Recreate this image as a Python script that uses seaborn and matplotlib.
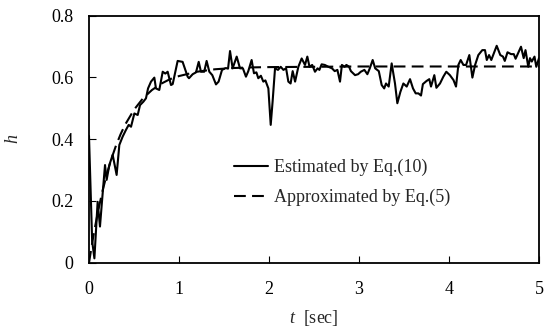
import matplotlib
matplotlib.use("Agg")
import matplotlib.pyplot as plt
import pandas as pd
import seaborn as sns

# Estimated index h(t) from Eq.(10)
t_est = [0.000, 0.035, 0.060, 0.096, 0.122, 0.144, 0.178, 0.196, 0.226, 0.263,
         0.307, 0.337, 0.374, 0.411, 0.441, 0.467, 0.504, 0.541, 0.567, 0.604,
         0.633, 0.656, 0.689, 0.726, 0.744, 0.781, 0.819, 0.848, 0.874, 0.911,
         0.930, 0.967, 0.985, 1.040, 1.070, 1.096, 1.111, 1.152, 1.189, 1.219,
         1.244, 1.280, 1.307, 1.337, 1.370, 1.411, 1.440, 1.478, 1.520, 1.545,
         1.567, 1.596, 1.641, 1.678, 1.710, 1.744, 1.770, 1.807, 1.833, 1.860,
         1.881, 1.910, 1.937, 1.960, 1.993, 2.019, 2.040, 2.067, 2.100, 2.130,
         2.160, 2.190, 2.215, 2.240, 2.263, 2.290, 2.326, 2.363, 2.400, 2.426,
         2.450, 2.480, 2.511, 2.540, 2.560, 2.585, 2.620, 2.660, 2.700, 2.730,
         2.760, 2.789, 2.810, 2.840, 2.860, 2.890, 2.910, 2.956, 2.990, 3.020,
         3.060, 3.093, 3.120, 3.152, 3.180, 3.220, 3.252, 3.280, 3.300, 3.330,
         3.363, 3.400, 3.426, 3.460, 3.493, 3.530, 3.567, 3.600, 3.630, 3.660,
         3.689, 3.710, 3.750, 3.781, 3.800, 3.837, 3.860, 3.900, 3.937, 3.970,
         4.010, 4.050, 4.078, 4.104, 4.130, 4.160, 4.190, 4.226, 4.260, 4.290,
         4.326, 4.370, 4.400, 4.420, 4.445, 4.470, 4.530, 4.570, 4.600, 4.620,
         4.650, 4.690, 4.720, 4.740, 4.800, 4.830, 4.850, 4.881, 4.900, 4.920,
         4.950, 4.970, 5.000]
h_est = [0.410, 0.070, 0.014, 0.197, 0.117, 0.197, 0.316, 0.268, 0.316, 0.349,
         0.284, 0.381, 0.408, 0.430, 0.446, 0.440, 0.483, 0.478, 0.510, 0.521,
         0.532, 0.564, 0.586, 0.599, 0.564, 0.559, 0.618, 0.612, 0.618, 0.575,
         0.578, 0.629, 0.653, 0.650, 0.624, 0.602, 0.597, 0.610, 0.616, 0.650,
         0.618, 0.618, 0.653, 0.618, 0.607, 0.577, 0.586, 0.624, 0.630, 0.628,
         0.685, 0.629, 0.667, 0.629, 0.629, 0.602, 0.620, 0.656, 0.613, 0.616,
         0.597, 0.605, 0.586, 0.590, 0.564, 0.446, 0.521, 0.629, 0.624, 0.634,
         0.624, 0.629, 0.586, 0.580, 0.620, 0.586, 0.634, 0.661, 0.640, 0.667,
         0.634, 0.640, 0.618, 0.629, 0.624, 0.642, 0.640, 0.634, 0.629, 0.620,
         0.624, 0.586, 0.640, 0.634, 0.640, 0.634, 0.620, 0.607, 0.610, 0.618,
         0.624, 0.610, 0.629, 0.656, 0.629, 0.620, 0.575, 0.564, 0.580, 0.570,
         0.645, 0.580, 0.516, 0.553, 0.580, 0.570, 0.594, 0.564, 0.548, 0.548,
         0.541, 0.578, 0.588, 0.594, 0.570, 0.607, 0.566, 0.580, 0.602, 0.618,
         0.607, 0.591, 0.570, 0.640, 0.656, 0.640, 0.640, 0.672, 0.599, 0.640,
         0.672, 0.688, 0.688, 0.656, 0.672, 0.656, 0.702, 0.672, 0.667, 0.653,
         0.681, 0.675, 0.675, 0.660, 0.699, 0.662, 0.688, 0.634, 0.662, 0.651,
         0.667, 0.634, 0.662]

# Approximation from Eq.(5)
t_apx = [0.00, 0.05, 0.10, 0.15, 0.20, 0.25, 0.30, 0.35, 0.40, 0.50, 0.60,
         0.70, 0.80, 0.90, 1.00, 1.20, 1.40, 1.60, 1.80, 2.00, 2.50, 3.00, 5.00]
h_apx = [0.000, 0.089, 0.166, 0.232, 0.289, 0.337, 0.379, 0.415, 0.446, 0.495,
         0.532, 0.559, 0.579, 0.594, 0.604, 0.618, 0.626, 0.630, 0.632, 0.633,
         0.634, 0.635, 0.635]

labels = ["Estimated by Eq.(10)", "Approximated by Eq.(5)"]
x_ticks = [0, 1, 2, 3, 4, 5]
y_ticks = [0, 0.2, 0.4, 0.6, 0.8]
y_ticklabels = ["0", "0.2", "0.4", "0.6", "0.8"]

sns.set_theme(style="ticks")
plt.rcParams["font.family"] = ["Liberation Serif", "DejaVu Serif"]
plt.rcParams["mathtext.fontset"] = "custom"
plt.rcParams["mathtext.it"] = "Liberation Serif:italic"
plt.rcParams["mathtext.rm"] = "Liberation Serif"
plt.rcParams["lines.scale_dashes"] = False

est = pd.DataFrame({"t": t_est, "h": h_est})
apx = pd.DataFrame({"t": t_apx, "h": h_apx})

fig = plt.figure(figsize=(5.44, 3.30), dpi=100)
ax = fig.add_axes([0.1636, 0.204, 0.8272, 0.749])

sns.lineplot(data=est, x="t", y="h", ax=ax, color="black", lw=1.5,
             sort=False, estimator=None, label=labels[0])
sns.lineplot(data=apx, x="t", y="h", ax=ax, color="black", lw=1.5,
             sort=False, estimator=None, label=labels[1], dashes=False)
ax.lines[1].set_dashes((8.5, 4.5))

ax.set_xlim(0, 5)
ax.set_ylim(0, 0.8)
ax.set_xticks(x_ticks)
ax.set_xticklabels([str(v) for v in x_ticks])
ax.set_yticks(y_ticks)
ax.set_yticklabels(y_ticklabels)
ax.tick_params(axis="both", direction="in", length=5, width=0.8,
               colors="black", labelsize=13)
ax.tick_params(axis="x", pad=13)
ax.tick_params(axis="y", pad=11)
for s in ax.spines.values():
    s.set_visible(True)
    s.set_color("black")
    s.set_linewidth(1.3)

ax.set_xlabel(r"$t$  [sec]", fontsize=13)
ax.set_ylabel(r"$h$", fontsize=13)
ax.xaxis.set_label_coords(0.5, -0.185)
ax.yaxis.set_label_coords(-0.148, 0.5)

leg = ax.legend(loc="center left", bbox_to_anchor=(0.322, 0.325),
                frameon=False, fontsize=13, handlelength=1.9,
                handletextpad=0.3, labelspacing=0.7, borderpad=0,
                borderaxespad=0)
for line in leg.get_lines()[1:]:
    line.set_dashes((8.5, 4.5))

fig.savefig("out.png", dpi=100, facecolor="white")
